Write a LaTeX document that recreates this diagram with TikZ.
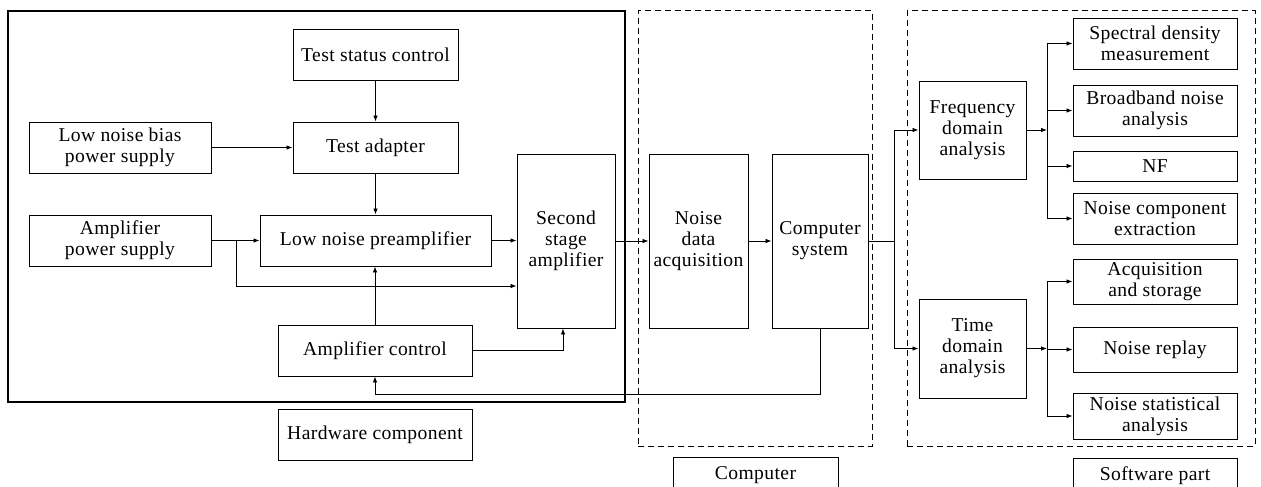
\documentclass[tikz,border=0pt]{standalone}
\usepackage{fontspec}
\setmainfont{Liberation Serif}[LetterSpace=2]
\usetikzlibrary{arrows.meta}
\begin{document}
\begin{tikzpicture}[x=1pt,y=-1pt,
  box/.style={draw, line width=0.9pt, inner sep=0pt, align=center,
    font=\fontsize{19.6}{21}\selectfont},
  solidframe/.style={draw, line width=1.3pt, inner sep=0pt},
  dashframe/.style={draw, line width=1pt, inner sep=0pt, dash pattern=on 6pt off 4pt},
  arr/.style={line width=0.8pt, -{Latex[length=6pt,width=4.5pt]}},
  wire/.style={line width=0.8pt}]
\useasboundingbox (0,0) rectangle (1261,487);
\clip (0,0) rectangle (1261,487);

% group frames
\node[solidframe, minimum width=617, minimum height=391] (hwframe) at (316.5,206.5) {};
\node[dashframe, minimum width=234, minimum height=435] (pcframe) at (755,228.5) {};
\node[dashframe, minimum width=348, minimum height=435] (swframe) at (1081,228.5) {};

% hardware part
\node[box, minimum width=165, minimum height=51] (tsc) at (375.5,54.5) {Test status control};
\node[box, minimum width=165, minimum height=51] (tad) at (375.5,147.5) {Test adapter};
\node[box, minimum width=182, minimum height=51] (lnb) at (120,147.5) {Low noise bias\\power supply};
\node[box, minimum width=182, minimum height=51] (aps) at (120,240.5) {Amplifier\\power supply};
\node[box, minimum width=231, minimum height=51] (lnp) at (375.5,240.5) {Low noise preamplifier};
\node[box, minimum width=98, minimum height=174] (ssa) at (566,241) {Second\\stage\\amplifier};
\node[box, minimum width=194, minimum height=51] (actl) at (375,350.5) {Amplifier control};
\node[box, minimum width=194, minimum height=51] (hwc) at (375,434.5) {Hardware component};

% computer part
\node[box, minimum width=99, minimum height=174] (nda) at (698.5,241) {Noise\\data\\acquisition};
\node[box, minimum width=96, minimum height=174] (cs) at (820,241) {Computer\\system};
\node[box, minimum width=165, minimum height=36] (pcl) at (755.5,475) {Computer};

% software part
\node[box, minimum width=107, minimum height=98] (fda) at (972.5,130) {Frequency\\domain\\analysis};
\node[box, minimum width=107, minimum height=99] (tda) at (972.5,348.5) {Time\\domain\\analysis};
\node[box, minimum width=164, minimum height=51] (sdm) at (1155,43.5) {Spectral density\\measurement};
\node[box, minimum width=164, minimum height=51] (bna) at (1155,110.5) {Broadband noise\\analysis};
\node[box, minimum width=164, minimum height=30] (nf) at (1155,166) {NF};
\node[box, minimum width=164, minimum height=51] (nce) at (1155,218.5) {Noise component\\extraction};
\node[box, minimum width=164, minimum height=45] (aas) at (1155,281.5) {Acquisition\\and storage};
\node[box, minimum width=164, minimum height=45] (nr) at (1155,349.5) {Noise replay};
\node[box, minimum width=164, minimum height=46] (nsa) at (1155,416) {Noise statistical\\analysis};
\node[box, minimum width=164, minimum height=36] (swl) at (1155,476) {Software part};

% branch points
\coordinate (j1) at (236,240.5);
\coordinate (j1b) at (236,286);
\coordinate (j2) at (894,241);
\coordinate (j3) at (1047,130);
\coordinate (j4) at (1047,348.5);

% hardware connections
\draw[arr] (tsc) -- (tad);
\draw[arr] (tad) -- (lnp);
\draw[arr] (lnb) -- (tad);
\draw[arr] (aps) -- (lnp);
\draw[wire] (j1) -- (j1b);
\draw[arr] (j1b) -- (j1b -| ssa.west);
\draw[arr] (lnp.east) -- (lnp.east -| ssa.west);
\draw[arr] (actl.north) -- (actl.north |- lnp.south);
\draw[arr] (actl.east) -| ([xshift=-3pt]ssa.south);

% acquisition chain
\draw[arr] (ssa.east) -- (nda.west);
\draw[arr] (nda) -- (cs);
\draw[wire] (cs.east) -- (j2);
\draw[arr] (j2) |- (fda.west);
\draw[arr] (j2) |- (tda.west);

% feedback to amplifier control
\draw[arr] (cs.south) -- ++(0,66) -| (actl.south);

% frequency domain branches
\draw[arr] (fda.east) -- (j3);
\draw[arr] (j3) |- (sdm.west);
\draw[arr] (j3) |- (bna.west);
\draw[arr] (j3) |- (nf.west);
\draw[arr] (j3) |- (nce.west);

% time domain branches
\draw[arr] (tda.east) -- (j4);
\draw[arr] (j4) |- (aas.west);
\draw[arr] (j4) |- (nr.west);
\draw[arr] (j4) |- (nsa.west);
\end{tikzpicture}
\end{document}
